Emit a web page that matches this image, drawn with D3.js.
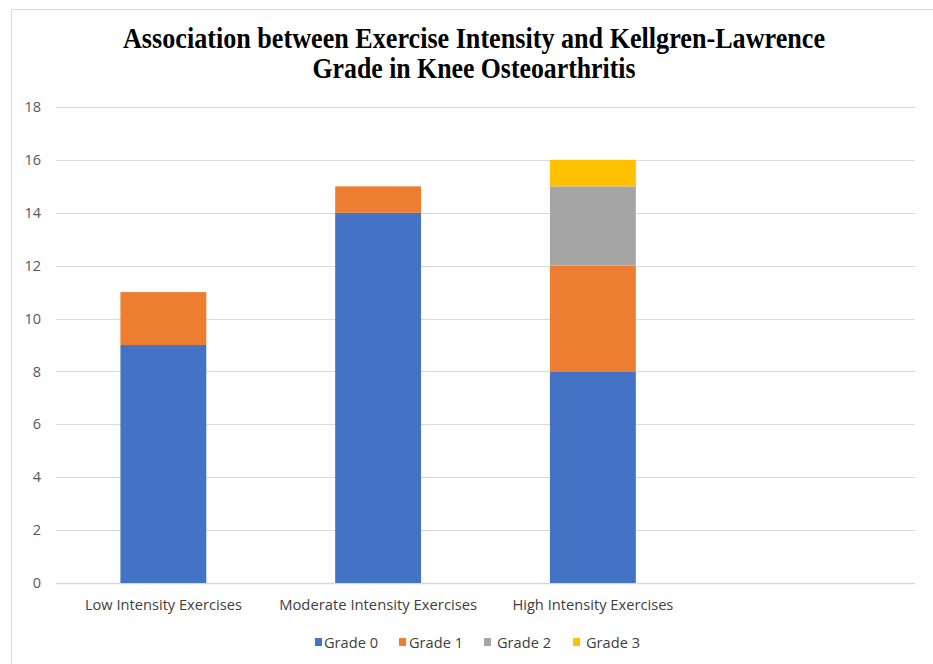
<!DOCTYPE html>
<html>
<head>
<meta charset="utf-8">
<script src="https://cdn.jsdelivr.net/npm/d3@7"></script>
<style>
  body { margin: 0; background: #fff; }
  svg { display: block; }
</style>
</head>
<body>
<div class="container"></div>
<script>
// chart values
const categories = ["Low Intensity Exercises", "Moderate Intensity Exercises", "High Intensity Exercises", ""]
const seriesNames = ["Grade 0", "Grade 1", "Grade 2", "Grade 3"]
const grade0 = [9, 14, 8, 0]
const grade1 = [2, 1, 4, 0]
const grade2 = [0, 0, 3, 0]
const grade3 = [0, 0, 1, 0]
const yTicks = [0, 2, 4, 6, 8, 10, 12, 14, 16, 18]
const colors = ["#4472c4", "#ed7d31", "#a5a5a5", "#ffc000"]

const w = 933
const h = 664
const plotLeft = 56, plotRight = 915, plotTop = 107, plotBottom = 583

const rows = categories.map((c, i) => ({
    cat: c,
    "Grade 0": grade0[i],
    "Grade 1": grade1[i],
    "Grade 2": grade2[i],
    "Grade 3": grade3[i]
}))
const stacked = d3.stack().keys(seriesNames)(rows)

const svg = d3.select(".container")
    .append("svg")
    .attr("width", w)
    .attr("height", h)

// chart border, cut off at right/bottom like the screenshot
svg.append("rect")
    .attr("x", 11.5).attr("y", 9.5)
    .attr("width", 1000).attr("height", 1000)
    .attr("fill", "none")
    .attr("stroke", "#d9d9d9")

const title = svg.append("text")
    .attr("text-anchor", "middle")
    .attr("font-family", "Liberation Serif, Times New Roman, serif")
    .attr("font-weight", "bold")
    .attr("font-size", 30)
    .attr("fill", "#000")
title.append("tspan").attr("x", 474).attr("y", 48)
    .attr("textLength", 702).attr("lengthAdjust", "spacingAndGlyphs")
    .text("Association between Exercise Intensity and Kellgren-Lawrence")
title.append("tspan").attr("x", 474).attr("y", 78)
    .attr("textLength", 323).attr("lengthAdjust", "spacingAndGlyphs")
    .text("Grade in Knee Osteoarthritis")

const x = d3.scaleBand()
    .domain(categories.map((c, i) => i))
    .range([plotLeft, plotRight])
    .paddingInner(0.6)
    .paddingOuter(0.3)

const y = d3.scaleLinear()
    .domain([0, 18])
    .range([plotBottom, plotTop])

// gridlines
svg.append("g")
    .selectAll("line")
    .data(yTicks)
    .enter()
    .append("line")
    .attr("x1", plotLeft).attr("x2", plotRight)
    .attr("y1", d => Math.round(y(d)) + 0.5)
    .attr("y2", d => Math.round(y(d)) + 0.5)
    .attr("stroke", "#d9d9d9")
    .attr("stroke-width", d => d === 0 ? 1.5 : 1)

const yAxis = d3.axisLeft(y).tickValues(yTicks).tickSize(0).tickPadding(0)
svg.append("g")
    .attr("transform", "translate(41,0)")
    .call(yAxis)
    .call(g => g.select(".domain").remove())
    .selectAll("text")
    .attr("font-family", "Open Sans, sans-serif")
    .attr("font-size", 14.5)
    .attr("fill", "#595959")

// bars
svg.append("g")
    .selectAll("g")
    .data(stacked)
    .enter()
    .append("g")
    .attr("fill", (d, i) => colors[i])
    .selectAll("rect")
    .data(d => d)
    .enter()
    .append("rect")
    .attr("x", (d, i) => x(i))
    .attr("width", x.bandwidth())
    .attr("y", d => y(d[1]))
    .attr("height", d => y(d[0]) - y(d[1]))

// category labels
const labelW = [157, 198, 161, 0]
const xAxis = d3.axisBottom(x).tickFormat(i => categories[i]).tickSize(0).tickPadding(0)
svg.append("g")
    .attr("transform", "translate(0,610)")
    .call(xAxis)
    .call(g => g.select(".domain").remove())
    .selectAll("text")
    .attr("font-family", "Open Sans, sans-serif")
    .attr("font-size", 15)
    .attr("fill", "#404040")
    .attr("y", 0)
    .attr("dy", 0)
    .filter(i => labelW[i] > 0)
    .attr("textLength", i => labelW[i])
    .attr("lengthAdjust", "spacingAndGlyphs")

// legend
const legendX = [315, 399, 484, 573]
const legendTextX = [9, 10, 13, 13]
const legend = svg.append("g")
    .selectAll("g")
    .data(seriesNames)
    .enter()
    .append("g")
    .attr("transform", (d, i) => "translate(" + legendX[i] + ",648)")
legend.append("rect")
    .attr("x", 0).attr("y", -10)
    .attr("width", 7).attr("height", 8)
    .attr("fill", (d, i) => colors[i])
legend.append("text")
    .attr("x", (d, i) => legendTextX[i])
    .attr("y", 0)
    .attr("font-family", "Open Sans, sans-serif")
    .attr("font-size", 15)
    .attr("fill", "#404040")
    .attr("textLength", 54)
    .attr("lengthAdjust", "spacingAndGlyphs")
    .text(d => d)
</script>
</body>
</html>
